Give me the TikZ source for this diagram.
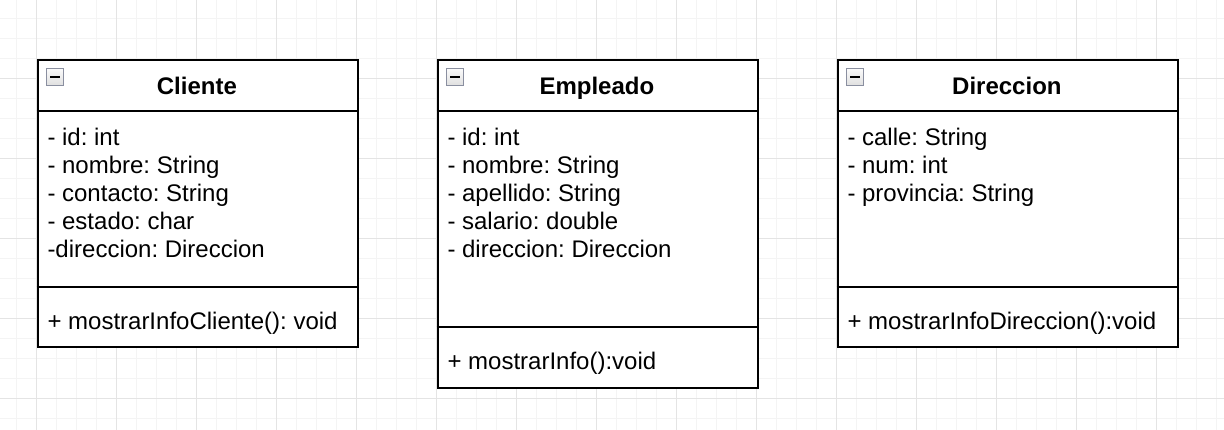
\documentclass[tikz,border=0pt]{standalone}
\usepackage{fontspec}
\setmainfont{Liberation Sans}
\frenchspacing
\definecolor{gridminor}{HTML}{F4F4F4}
\definecolor{gridmajor}{HTML}{E4E4E4}
\definecolor{iconborder}{HTML}{8A8FA0}
\begin{document}
\begin{tikzpicture}[x=1pt,y=-1pt,
  classbox/.style={draw=black,line width=2pt,fill=white,rectangle,inner sep=0pt,anchor=north west,minimum width=#1},
  sep/.style={draw=black,line width=2pt},
  attr/.style={anchor=base west,inner sep=0pt,font=\fontsize{24}{28}\selectfont\frenchspacing},
  title/.style={anchor=base,inner sep=0pt,font=\fontsize{24}{28}\selectfont\bfseries},
  icon/.style={draw=iconborder,line width=1.5pt,top color=white!97!gray,bottom color=gray!25,minimum size=17pt,inner sep=0pt},
  minor/.style={draw=gridminor,line width=1.2pt},
  major/.style={draw=gridmajor,line width=1.4pt}]
\useasboundingbox (0,0) rectangle (1224,430);
\fill[white] (0,0) rectangle (1224,430);
% grid
\foreach \x in {16.5,56.5,76.5,96.5}{
  \foreach \k in {0,80,...,1200}{
    \pgfmathsetmacro\xx{\x+\k}
    \draw[minor] (\xx,0) -- (\xx,430);}}
\foreach \y in {18.3,38.3,58.3}{
  \foreach \k in {0,80,...,400}{
    \pgfmathsetmacro\yy{\y+\k}
    \draw[minor] (0,\yy) -- (1224,\yy);}}
\foreach \k in {0,80,...,1200}{
  \pgfmathsetmacro\xx{36.5+\k}
  \draw[major] (\xx,0) -- (\xx,430);}
\foreach \k in {0,80,...,400}{
  \pgfmathsetmacro\yy{78.3+\k}
  \draw[major] (0,\yy) -- (1224,\yy);}

% Cliente
\node[classbox=320.5pt,minimum height=287.5pt] (cl) at (36.7,58.7) {};
\coordinate (clh) at (36.7,111);
\coordinate (clm) at (36.7,287.3);
\draw[sep] (clh) -- (clh -| cl.east);
\draw[sep] (clm) -- (clm -| cl.east);
\node[icon] (clicon) at (55,77) {\rule{10pt}{2.2pt}};
\node[title] (clt) at (196.9,94.3) {Cliente};
\node[attr] (cla1) at (47.3,145.7) {- id: int};
\node[attr] (cla2) at (47.3,173.7) {- nombre: String};
\node[attr] (cla3) at (47.3,201.7) {- contacto: String};
\node[attr] (cla4) at (47.3,229.7) {- estado: char};
\node[attr] (cla5) at (47.3,257.7) {-direccion: Direccion};
\node[attr] (clm1) at (47.3,329.3) {+ mostrarInfoCliente(): void};

% Empleado
\node[classbox=320.5pt,minimum height=328pt] (em) at (436.7,58.7) {};
\coordinate (emh) at (436.7,111);
\coordinate (emm) at (436.7,326.7);
\draw[sep] (emh) -- (emh -| em.east);
\draw[sep] (emm) -- (emm -| em.east);
\node[icon] (emicon) at (455,77) {\rule{10pt}{2.2pt}};
\node[title] (emt) at (596.9,94.3) {Empleado};
\node[attr] (ema1) at (447.3,145.7) {- id: int};
\node[attr] (ema2) at (447.3,173.7) {- nombre: String};
\node[attr] (ema3) at (447.3,201.7) {- apellido: String};
\node[attr] (ema4) at (447.3,229.7) {- salario: double};
\node[attr] (ema5) at (447.3,257.7) {- direccion: Direccion};
\node[attr] (emm1) at (447.3,369.3) {+ mostrarInfo():void};

% Direccion
\node[classbox=340.5pt,minimum height=287.5pt] (di) at (836.7,58.7) {};
\coordinate (dih) at (836.7,111);
\coordinate (dim) at (836.7,287.3);
\draw[sep] (dih) -- (dih -| di.east);
\draw[sep] (dim) -- (dim -| di.east);
\node[icon] (diicon) at (855,77) {\rule{10pt}{2.2pt}};
\node[title] (dit) at (1006.9,94.3) {Direccion};
\node[attr] (dia1) at (847.3,145.7) {- calle: String};
\node[attr] (dia2) at (847.3,173.7) {- num: int};
\node[attr] (dia3) at (847.3,201.7) {- provincia: String};
\node[attr] (dim1) at (847.3,329.3) {+ mostrarInfoDireccion():void};
\end{tikzpicture}
\end{document}
